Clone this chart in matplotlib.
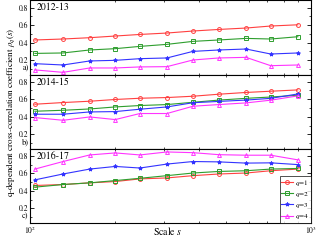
import matplotlib
matplotlib.use("Agg")
import matplotlib.pyplot as plt
from matplotlib.ticker import MultipleLocator, NullFormatter, LogLocator

plt.rcParams['font.family'] = ['STIXGeneral', 'DejaVu Serif']
plt.rcParams['mathtext.fontset'] = 'stix'

# scale s
scales = [104, 131, 163, 201, 246, 307, 380, 470, 587, 719, 898]

periods = ['2012-13', '2014-15', '2016-17']
panel_tags = ['a)', 'b)', 'c)']

rho_2012 = {
    1: [0.430, 0.441, 0.456, 0.475, 0.493, 0.509, 0.532, 0.550, 0.566, 0.589, 0.603],
    2: [0.277, 0.282, 0.316, 0.331, 0.357, 0.380, 0.414, 0.430, 0.448, 0.441, 0.467],
    3: [0.160, 0.145, 0.191, 0.198, 0.217, 0.225, 0.300, 0.316, 0.327, 0.270, 0.282],
    4: [0.089, 0.061, 0.111, 0.111, 0.123, 0.126, 0.202, 0.225, 0.232, 0.137, 0.145],
}
rho_2014 = {
    1: [0.543, 0.562, 0.577, 0.597, 0.611, 0.619, 0.634, 0.657, 0.677, 0.691, 0.706],
    2: [0.463, 0.474, 0.489, 0.512, 0.528, 0.539, 0.565, 0.590, 0.610, 0.625, 0.645],
    3: [0.429, 0.429, 0.455, 0.459, 0.486, 0.512, 0.560, 0.575, 0.590, 0.610, 0.660],
    4: [0.391, 0.360, 0.398, 0.368, 0.437, 0.437, 0.520, 0.539, 0.558, 0.589, 0.638],
}
rho_2016 = {
    1: [0.462, 0.473, 0.492, 0.507, 0.537, 0.548, 0.574, 0.593, 0.604, 0.630, 0.649],
    2: [0.443, 0.473, 0.492, 0.518, 0.544, 0.574, 0.604, 0.622, 0.630, 0.649, 0.656],
    3: [0.526, 0.593, 0.649, 0.679, 0.661, 0.706, 0.735, 0.731, 0.717, 0.720, 0.700],
    4: [0.649, 0.735, 0.810, 0.833, 0.810, 0.844, 0.836, 0.813, 0.807, 0.807, 0.754],
}
all_data = [rho_2012, rho_2014, rho_2016]

styles = {
    1: dict(color='#ff4040', marker='o', mfc='none'),
    2: dict(color='#2e9e2e', marker='s', mfc='none'),
    3: dict(color='#3333ff', marker='*'),
    4: dict(color='#ff33ff', marker='^', mfc='none'),
}

fig, axes = plt.subplots(3, 1, figsize=(3.17, 2.40), dpi=100, sharex=True)
fig.subplots_adjust(left=0.095, right=0.981, top=0.998, bottom=0.071, hspace=0)

for ax, data, period, tag in zip(axes, all_data, periods, panel_tags):
    for q in [1, 2, 3, 4]:
        ax.plot(scales, data[q], lw=0.8, ms=2.8, mew=0.7, label='$q$=%d' % q, **styles[q])
    ax.set_xscale('log')
    ax.set_xlim(100, 1000)
    ax.xaxis.set_minor_locator(LogLocator(base=10, subs=range(2, 10)))
    ax.xaxis.set_minor_formatter(NullFormatter())
    ax.set_ylim(0.035, 0.88)
    ax.yaxis.set_major_locator(MultipleLocator(0.2))
    ax.yaxis.set_minor_locator(MultipleLocator(0.1))
    ax.set_yticks([0.2, 0.4, 0.6, 0.8])
    ax.tick_params(which='both', direction='in', top=True, right=True, labelsize=5.5, pad=1.5)
    ax.tick_params(axis='x', pad=1)
    ax.tick_params(which='major', length=3, width=0.6)
    ax.tick_params(which='minor', length=1.5, width=0.5)
    for sp in ax.spines.values():
        sp.set_linewidth(0.8)
    ax.text(0.025, 0.97, period, transform=ax.transAxes, fontsize=7, va='top', ha='left')
    ax.text(-0.005, 0.03, tag, transform=ax.transAxes, fontsize=6, va='bottom', ha='right')

fig.text(0.53, 0.012, 'Scale $s$', fontsize=7, ha='center', va='bottom')
fig.text(0.012, 0.53, r'q-dependent cross-correlation coefficient $\rho_q(s)$',
         rotation=90, fontsize=6.5, va='center', ha='left')

leg = axes[2].legend(loc='lower right', fontsize=5.2, frameon=True, fancybox=False,
                     borderaxespad=0, handlelength=1.6, handletextpad=0.3,
                     labelspacing=0.3, borderpad=0.25)
leg.get_frame().set_edgecolor('black')
leg.get_frame().set_linewidth(0.6)

fig.savefig('out.png', dpi=100)
